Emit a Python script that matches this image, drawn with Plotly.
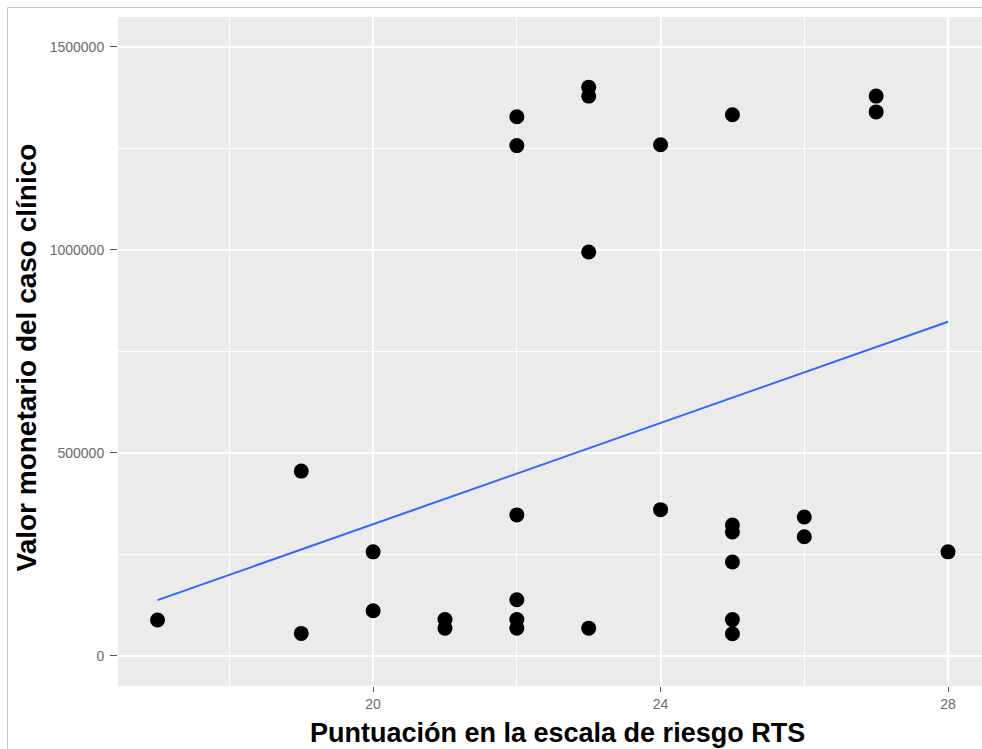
import plotly.graph_objects as go

# Data
rts_score = [17, 19, 19, 20, 20, 21, 21, 22, 22, 22, 22, 22, 22,
             23, 23, 23, 23, 24, 24, 25, 25, 25, 25, 25, 25,
             26, 26, 27, 27, 28]
case_value = [88000, 455000, 55000, 256000, 111000, 89000, 68000,
              1328000, 1257000, 347000, 138000, 89000, 68000,
              1401000, 1379000, 995000, 68000, 1259000, 360000,
              1333000, 322000, 305000, 231000, 89000, 54000,
              342000, 293000, 1379000, 1340000, 256000]
fit_x = [17, 28]
fit_y = [137000, 823000]

x_ticks = [20, 24, 28]
x_minor = [18, 22, 26]
y_ticks = [0, 500000, 1000000, 1500000]
y_tick_labels = ["0", "500000", "1000000", "1500000"]
y_minor = [250000, 750000, 1250000]

FONT = "Liberation Sans, Arial, sans-serif"

fig = go.Figure()
fig.add_trace(go.Scatter(
    x=rts_score, y=case_value, mode="markers",
    marker=dict(color="black", size=15, line=dict(width=0)),
    showlegend=False, hoverinfo="x+y"))
fig.add_trace(go.Scatter(
    x=fit_x, y=fit_y, mode="lines",
    line=dict(color="#3366FF", width=2),
    showlegend=False))

W, H = 982, 749
L, R, T, B = 118, 0, 17, 63
pw = W - L - R
ph = H - T - B

def px_x(p):
    return (p - L) / pw

def px_y(p):
    return (H - B - p) / ph

fig.update_layout(
    width=W, height=H,
    margin=dict(l=L, r=R, t=T, b=B, pad=0),
    paper_bgcolor="white",
    plot_bgcolor="#EBEBEB",
    font=dict(family=FONT, color="#4D4D4D"),
    xaxis=dict(
        range=[16.45, 28.473],
        tickmode="array", tickvals=x_ticks, ticktext=[str(v) for v in x_ticks],
        showgrid=True, gridcolor="white", gridwidth=1.5,
        minor=dict(tickmode="array", tickvals=x_minor, showgrid=True,
                   gridcolor="white", gridwidth=0.8, ticks=""),
        ticks="outside", ticklen=5, tickcolor="#555555", tickwidth=1,
        tickfont=dict(size=14, color="#6b6b6b", family=FONT),
        zeroline=False, showline=False,
    ),
    yaxis=dict(
        range=[-74600, 1573900],
        tickmode="array", tickvals=y_ticks, ticktext=y_tick_labels,
        showgrid=True, gridcolor="white", gridwidth=1.5,
        minor=dict(tickmode="array", tickvals=y_minor,
                   showgrid=True, gridcolor="white", gridwidth=0.8, ticks=""),
        ticks="outside", ticklen=7, tickcolor="#555555", tickwidth=1,
        ticklabelstandoff=3,
        tickfont=dict(size=14, color="#6b6b6b", family=FONT),
        zeroline=False, showline=False,
    ),
    annotations=[
        dict(text="<b>Puntuación en la escala de riesgo RTS</b>",
             xref="paper", yref="paper", x=px_x(557), y=px_y(733),
             xanchor="center", yanchor="middle", showarrow=False,
             font=dict(size=27, color="black", family=FONT)),
        dict(text="<b>Valor monetario del caso clínico</b>",
             xref="paper", yref="paper", x=px_x(25.5), y=px_y(358),
             xanchor="center", yanchor="middle", showarrow=False,
             textangle=-90,
             font=dict(size=28, color="black", family=FONT)),
    ],
    shapes=[
        dict(type="line", xref="paper", yref="paper",
             x0=px_x(7.5), x1=px_x(7.5), y0=px_y(7.5), y1=px_y(760),
             line=dict(color="#C8C8C8", width=1)),
        dict(type="line", xref="paper", yref="paper",
             x0=px_x(7.5), x1=px_x(990), y0=px_y(7.5), y1=px_y(7.5),
             line=dict(color="#C8C8C8", width=1)),
    ],
)

fig.write_html("out.html")
